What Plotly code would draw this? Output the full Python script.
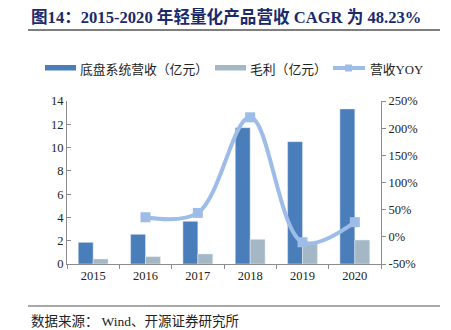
import plotly.graph_objects as go

years = ["2015", "2016", "2017", "2018", "2019", "2020"]
chassis_revenue = [1.86, 2.55, 3.67, 11.71, 10.51, 13.32]   # 底盘系统营收（亿元）
gross_profit = [0.43, 0.63, 0.86, 2.12, 1.89, 2.06]          # 毛利（亿元）
yoy_years = ["2016", "2017", "2018", "2019", "2020"]
revenue_yoy = [36, 44, 220, -10, 27]                          # 营收YOY（%）

left_ticks = [0, 2, 4, 6, 8, 10, 12, 14]
right_ticks = [-50, 0, 50, 100, 150, 200, 250]
right_labels = ["-50%", "0%", "50%", "100%", "150%", "200%", "250%"]

BLUE = "#4A7EBB"
GRAY = "#A3B8C4"
LINE = "#9DBDE8"
NAVY = "#1B2A6B"
SERIF = "Liberation Serif, Noto Sans CJK SC, serif"

W, H = 451, 330
ML, MR, MT, MB = 67, 70, 101, 66
PW, PH = W - ML - MR, H - MT - MB


def px(x):
    return (x - ML) / PW


def py(y):
    return (H - MB - y) / PH


fig = go.Figure()
fig.add_trace(go.Bar(x=years, y=chassis_revenue, marker_color=BLUE,
                     name="底盘系统营收（亿元）", showlegend=False))
fig.add_trace(go.Bar(x=years, y=gross_profit, marker_color=GRAY,
                     name="毛利（亿元）", showlegend=False))
fig.add_trace(go.Scatter(x=yoy_years, y=revenue_yoy, yaxis="y2",
                         mode="lines+markers", name="营收YOY", showlegend=False,
                         line=dict(color=LINE, width=4, shape="spline", smoothing=1.0),
                         marker=dict(symbol="square", size=10, color=LINE)))

axis_font = dict(family=SERIF, size=12.5, color="#222")
fig.update_layout(
    width=W, height=H,
    margin=dict(l=ML, r=MR, t=MT, b=MB),
    paper_bgcolor="white", plot_bgcolor="white",
    barmode="group", bargap=0.43, bargroupgap=0,
    font=dict(family=SERIF),
    xaxis=dict(type="category", showline=True, linecolor="#8c8c8c", linewidth=1,
               ticks="outside", tickson="boundaries", ticklen=4, tickcolor="#8c8c8c",
               tickfont=axis_font, showgrid=False, zeroline=False),
    yaxis=dict(range=[0, 14], tickvals=left_ticks, showline=True, linecolor="#8c8c8c",
               ticks="inside", ticklen=4, tickcolor="#8c8c8c", tickfont=axis_font,
               showgrid=False, zeroline=False),
    yaxis2=dict(range=[-50, 250], tickvals=right_ticks, ticktext=right_labels,
                overlaying="y", side="right", showline=True, linecolor="#8c8c8c",
                ticks="outside", ticklen=4, tickcolor="#8c8c8c", tickfont=axis_font,
                showgrid=False, zeroline=False),
)

shapes = [
    # rule under the heading and above the source note
    dict(type="line", xref="paper", yref="paper", x0=px(28), x1=px(440),
         y0=py(30), y1=py(30), line=dict(color="#555", width=1.5)),
    dict(type="line", xref="paper", yref="paper", x0=px(28), x1=px(440),
         y0=py(306), y1=py(306), line=dict(color="#555", width=1.2)),
    # legend keys
    dict(type="rect", xref="paper", yref="paper", x0=px(45), x1=px(76),
         y0=py(70.5), y1=py(65), fillcolor=BLUE, line=dict(width=0)),
    dict(type="rect", xref="paper", yref="paper", x0=px(215), x1=px(246),
         y0=py(70.5), y1=py(65), fillcolor=GRAY, line=dict(width=0)),
    dict(type="line", xref="paper", yref="paper", x0=px(333), x1=px(365),
         y0=py(68), y1=py(68), line=dict(color=LINE, width=4)),
    dict(type="rect", xref="paper", yref="paper", x0=px(345), x1=px(352),
         y0=py(71.5), y1=py(64.5), fillcolor=LINE, line=dict(width=0)),
]

legend_font = dict(family="Noto Sans CJK SC, sans-serif", size=12.8, color="#222")
annotations = [
    dict(text="<b>图14：2015-2020 年轻量化产品营收 CAGR 为 48.23%</b>",
         xref="paper", yref="paper", x=px(29), y=py(17), xanchor="left", yanchor="middle",
         showarrow=False, font=dict(family="Liberation Serif, Noto Sans CJK SC", size=16.6, color=NAVY)),
    dict(text="底盘系统营收（亿元）", xref="paper", yref="paper", x=px(78), y=py(68),
         xanchor="left", yanchor="middle", showarrow=False, font=legend_font),
    dict(text="毛利（亿元）", xref="paper", yref="paper", x=px(248), y=py(68),
         xanchor="left", yanchor="middle", showarrow=False, font=legend_font),
    dict(text="营收<span style='font-family:Liberation Serif'>YOY</span>", xref="paper", yref="paper",
         x=px(368), y=py(68), xanchor="left", yanchor="middle", showarrow=False, font=legend_font),
    dict(text="数据来源： <span style='font-family:Liberation Serif'>Wind</span>、开源证券研究所",
         xref="paper", yref="paper", x=px(29), y=py(320), xanchor="left", yanchor="middle",
         showarrow=False, font=dict(family="Noto Sans CJK SC, sans-serif", size=13.5, color="#222")),
]
fig.update_layout(shapes=shapes, annotations=annotations)

fig.write_html("out.html")
